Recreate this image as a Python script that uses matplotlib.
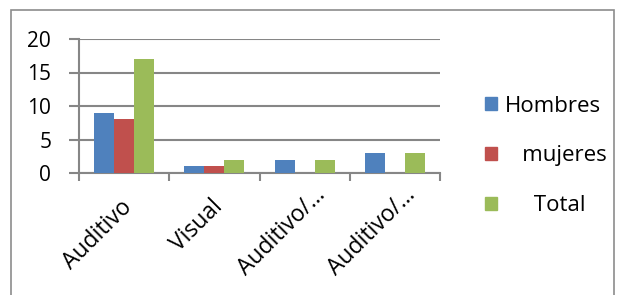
import matplotlib
matplotlib.use("Agg")
import matplotlib.pyplot as plt
from matplotlib.patches import Rectangle
import matplotlib.transforms as mtransforms
import numpy as np

categories = ["Auditivo", "Visual", "Auditivo/…", "Auditivo/…"]
hombres = [9, 1, 2, 3]
mujeres = [8, 1, 0, 0]
total = [17, 2, 2, 3]
series_names = ["Hombres", "   mujeres", "     Total"]
colors = ["#4F81BD", "#C0504D", "#9BBB59"]

plt.rcParams['font.family'] = ['Open Sans', 'DejaVu Sans']
fig = plt.figure(figsize=(6.21, 2.95), dpi=100)
ax = fig.add_axes([79/621, 1-173/295, (440-79)/621, (173-39)/295])

x = np.arange(len(categories))
w = 1/4.5
for i, (vals, c, n) in enumerate(zip([hombres, mujeres, total], colors, series_names)):
    ax.bar(x + (i-1)*w, vals, width=w, color=c, label=n, zorder=3)

gc = "#868686"
ax.set_xlim(-0.5, len(categories)-0.5)
ax.set_ylim(0, 20)
ax.set_yticks([0, 5, 10, 15, 20])
ax.yaxis.grid(True, color=gc, linewidth=1.5, zorder=0)
for s in ["top", "right"]:
    ax.spines[s].set_visible(False)
for s in ["left", "bottom"]:
    ax.spines[s].set_color(gc)
    ax.spines[s].set_linewidth(1.5)
ax.tick_params(axis="y", colors=gc, length=7, width=1.5, labelsize=15, labelcolor="black", pad=13)
fs = 16.5
ax.set_xticks(x)
ax.set_xticklabels(categories, rotation=45, ha="right", rotation_mode="anchor", fontsize=fs)
ax.tick_params(axis="x", length=0, pad=16)

renderer = fig.canvas.get_renderer()
tmp = fig.text(0, 0, "…", fontsize=fs)
ell_w = tmp.get_window_extent(renderer).width
tmp.remove()
d = ell_w / np.sqrt(2) / fig.dpi
for lbl in ax.get_xticklabels():
    if lbl.get_text().endswith("…"):
        off = mtransforms.ScaledTranslation(-4/100 + d, d, fig.dpi_scale_trans)
    else:
        off = mtransforms.ScaledTranslation(-4/100, 0, fig.dpi_scale_trans)
    lbl.set_transform(lbl.get_transform() + off)
ax.set_xticks(np.arange(-0.5, len(categories), 1), minor=True)
ax.tick_params(axis="x", which="minor", length=6, width=1.5, colors=gc)

handles = [Rectangle((0, 0), 1, 1, color=c) for c in colors]
fig.legend(handles, series_names, loc="center left", bbox_to_anchor=(465/621, 1-156/295),
           frameon=False, fontsize=16, handlelength=0.55, handleheight=0.55,
           handletextpad=0.35, labelspacing=1.3)

fig.add_artist(Rectangle((11/621, -0.1), (614-11)/621, 1.1-10/295, transform=fig.transFigure,
                         fill=False, edgecolor="#8c8c8c", linewidth=1.2))

fig.savefig("out.png", dpi=100)
